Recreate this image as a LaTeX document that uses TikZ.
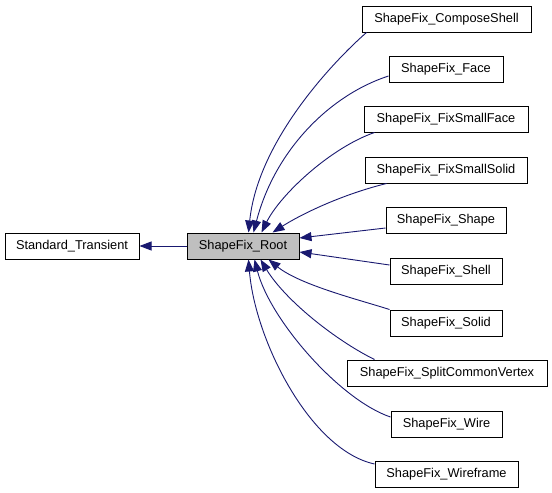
\documentclass[tikz,border=0pt]{standalone}
\usepackage{fontspec}
\setmainfont{Liberation Sans}
\usetikzlibrary{arrows.meta,calc}
\definecolor{edgeblue}{HTML}{191970}
\definecolor{rootgray}{HTML}{BFBFBF}
\begin{document}
\begin{tikzpicture}[x=1pt,y=-1pt,
  box/.style={draw=black,line width=1pt,fill=white,minimum height=26pt,inner sep=0pt,
    font=\fontsize{12.8}{15}\selectfont},
  edge/.style={draw=edgeblue,line width=0.9pt,-{Triangle[length=12pt,width=9pt]}}]
\useasboundingbox (0,0) rectangle (552,493);
\node[box,minimum width=134pt] (st) at (72,246) {Standard\_Transient};
\node[box,minimum width=112pt,fill=rootgray] (root) at (243,246) {ShapeFix\_Root};
\node[box,minimum width=169pt] (cs) at (446.5,19) {ShapeFix\_ComposeShell};
\node[box,minimum width=114pt] (face) at (446,69) {ShapeFix\_Face};
\node[box,minimum width=164pt] (fsf) at (446,119) {ShapeFix\_FixSmallFace};
\node[box,minimum width=162pt] (fss) at (446,170) {ShapeFix\_FixSmallSolid};
\node[box,minimum width=120pt] (shape) at (446,220) {ShapeFix\_Shape};
\node[box,minimum width=112pt] (shell) at (446,271) {ShapeFix\_Shell};
\node[box,minimum width=112pt] (solid) at (446,323) {ShapeFix\_Solid};
\node[box,minimum width=200pt] (scv) at (447,373) {ShapeFix\_SplitCommonVertex};
\node[box,minimum width=111pt] (wire) at (446.5,424) {ShapeFix\_Wire};
\node[box,minimum width=143pt] (wf) at (446.5,474.5) {ShapeFix\_Wireframe};
\draw[edge] (root.west) -- (st.east);
\draw[edge] ($(cs.south west)+(5,0)$) .. controls (335,60) and (258,140) .. ($(root.north west)+(62,0)$);
\draw[edge] ($(face.west)+(0,7)$) .. controls (330,95) and (275,150) .. ($(root.north west)+(67,0)$);
\draw[edge] ($(fsf.south west)+(11,0)$) .. controls (330,148) and (280,195) .. ($(root.north west)+(75,0)$);
\draw[edge] ($(fss.south west)+(22,0)$) .. controls (340,195) and (300,215) .. ($(root.north west)+(86,0)$);
\draw[edge] ($(shape.west)+(0,8)$) -- ($(root.east)+(0,-8)$);
\draw[edge] ($(shell.west)+(0,-6)$) -- ($(root.east)+(0,6)$);
\draw[edge] (solid.north west) .. controls (360,300) and (300,285) .. ($(root.south west)+(82,0)$);
\draw[edge] ($(scv.north west)+(28,0)$) .. controls (335,340) and (285,300) .. ($(root.south west)+(74,0)$);
\draw[edge] ($(wire.west)+(0,-7)$) .. controls (340,400) and (270,320) .. ($(root.south west)+(68,0)$);
\draw[edge] ($(wf.north west)+(0,3)$) .. controls (310,450) and (255,340) .. ($(root.south west)+(62,0)$);
\end{tikzpicture}
\end{document}
